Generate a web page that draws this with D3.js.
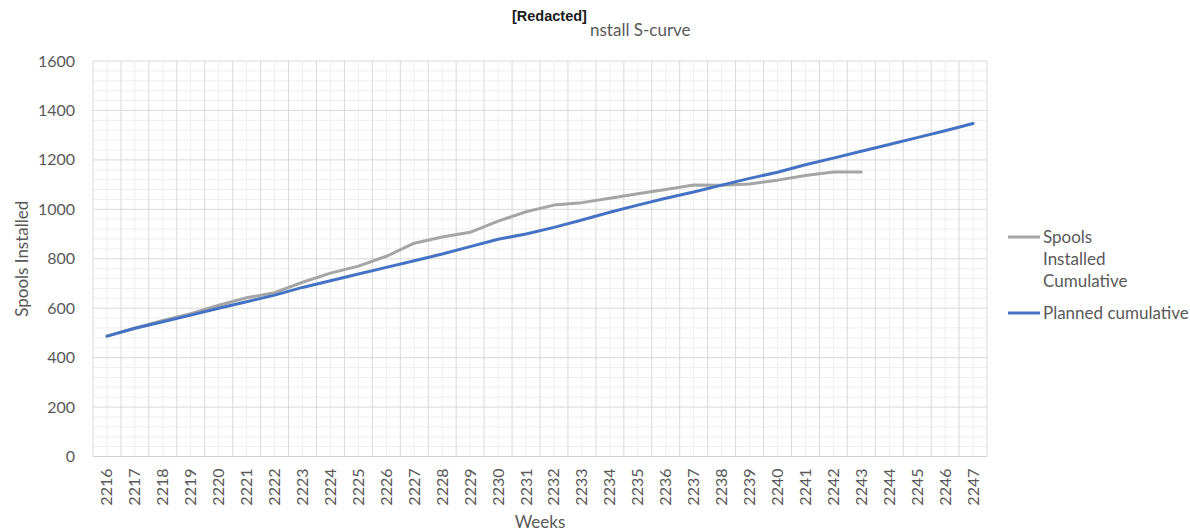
<!DOCTYPE html>
<html>
<head>
<meta charset="utf-8">
<script src="https://cdn.jsdelivr.net/npm/d3@7"></script>
<style>
  body { margin: 0; background: #fff; }
  svg text { font-family: Lato, "Open Sans", sans-serif; }
</style>
</head>
<body>
<div id="chart"></div>
<script>
// weeks on the category axis
const weeks = d3.range(2216, 2248).map(String);

// cumulative spools actually installed (stops at week 2243)
const installed = [487, 519, 550, 578, 612, 642, 663, 705, 742, 770, 810, 863, 888, 907,
  952, 990, 1017, 1027, 1045, 1063, 1080, 1098, 1097, 1102, 1118, 1137, 1151, 1151];

// planned cumulative
const planned = [487, 519, 545, 572, 600, 626, 653, 684, 711, 738, 765, 792, 819, 849,
  879, 900, 927, 957, 988, 1017, 1045, 1070, 1098, 1125, 1150, 1180, 1207, 1235, 1262,
  1290, 1318, 1347];

const yTicks = [0, 200, 400, 600, 800, 1000, 1200, 1400, 1600];

const width = 1190, height = 532;
const plotL = 93, plotR = 987, plotT = 61, plotB = 456.5;
const grey = "#595959";

const svg = d3.select("#chart").append("svg")
  .attr("width", width)
  .attr("height", height);

const x = d3.scaleBand().domain(weeks).range([plotL, plotR]).padding(0);
const y = d3.scaleLinear().domain([0, 1600]).range([plotB, plotT]);
const cx = w => x(w) + x.bandwidth() / 2;

// gridlines - minor first
const grid = svg.append("g").attr("class", "grid");
grid.selectAll("line.hminor")
  .data(d3.range(0, 1601, 40).filter(v => v % 200 !== 0))
  .enter().append("line")
  .attr("x1", plotL).attr("x2", plotR)
  .attr("y1", d => y(d)).attr("y2", d => y(d))
  .attr("stroke", "#efefef");
grid.selectAll("line.vminor")
  .data(weeks)
  .enter().append("line")
  .attr("x1", d => cx(d)).attr("x2", d => cx(d))
  .attr("y1", plotT).attr("y2", plotB)
  .attr("stroke", "#efefef");
grid.selectAll("line.hmajor")
  .data(yTicks.slice(1))
  .enter().append("line")
  .attr("x1", plotL).attr("x2", plotR)
  .attr("y1", d => y(d)).attr("y2", d => y(d))
  .attr("stroke", "#d9d9d9");
grid.selectAll("line.vmajor")
  .data(weeks.concat(["end"]))
  .enter().append("line")
  .attr("x1", d => d === "end" ? plotR : x(d))
  .attr("x2", d => d === "end" ? plotR : x(d))
  .attr("y1", plotT).attr("y2", plotB)
  .attr("stroke", "#d9d9d9");

// x axis line
svg.append("line")
  .attr("x1", plotL).attr("x2", plotR)
  .attr("y1", plotB).attr("y2", plotB)
  .attr("stroke", "#d0d0d0");

// y tick labels
svg.selectAll("text.ytick")
  .data(yTicks)
  .enter().append("text")
  .attr("x", 75)
  .attr("y", d => y(d) + 5.5)
  .attr("text-anchor", "end")
  .attr("fill", grey)
  .attr("font-size", 16)
  .text(d => d);

// x tick labels, rotated
svg.selectAll("text.xtick")
  .data(weeks)
  .enter().append("text")
  .attr("transform", d => "translate(" + (cx(d) + 5.5) + "," + (plotB + 12) + ") rotate(-90)")
  .attr("text-anchor", "end")
  .attr("fill", grey)
  .attr("font-size", 16)
  .text(d => d);

// series
const line = d3.line()
  .x((d, i) => cx(weeks[i]))
  .y(d => y(d));

svg.append("path")
  .datum(installed)
  .attr("d", line)
  .attr("fill", "none")
  .attr("stroke", "#a5a5a5")
  .attr("stroke-width", 3)
  .attr("stroke-linejoin", "round")
  .attr("stroke-linecap", "round");

svg.append("path")
  .datum(planned)
  .attr("d", line)
  .attr("fill", "none")
  .attr("stroke", "#4472c4")
  .attr("stroke-width", 3)
  .attr("stroke-linejoin", "round")
  .attr("stroke-linecap", "round");

// title
svg.append("text")
  .attr("x", 512).attr("y", 21)
  .attr("font-weight", "bold")
  .attr("font-size", 14.5)
  .attr("fill", "#1a1a1a")
  .attr("style", "font-family: 'Liberation Sans', Arial, sans-serif")
  .text("[Redacted]");
svg.append("text")
  .attr("x", 590).attr("y", 36)
  .attr("font-size", 17)
  .attr("fill", grey)
  .text("nstall S-curve");

// axis titles
svg.append("text")
  .attr("x", (plotL + plotR) / 2).attr("y", 528)
  .attr("text-anchor", "middle")
  .attr("font-size", 17)
  .attr("fill", grey)
  .text("Weeks");
svg.append("text")
  .attr("transform", "translate(28," + (plotT + plotB) / 2 + ") rotate(-90)")
  .attr("text-anchor", "middle")
  .attr("font-size", 17)
  .attr("fill", grey)
  .text("Spools Installed");

// legend
const legend = svg.append("g").attr("class", "legend");
legend.append("line")
  .attr("x1", 1008).attr("x2", 1040)
  .attr("y1", 237).attr("y2", 237)
  .attr("stroke", "#a5a5a5").attr("stroke-width", 3);
["Spools", "Installed", "Cumulative"].forEach((t, i) => {
  legend.append("text")
    .attr("x", 1043).attr("y", 243 + i * 22)
    .attr("font-size", 17)
    .attr("fill", grey)
    .text(t);
});
legend.append("line")
  .attr("x1", 1008).attr("x2", 1040)
  .attr("y1", 313).attr("y2", 313)
  .attr("stroke", "#4472c4").attr("stroke-width", 3);
legend.append("text")
  .attr("x", 1043).attr("y", 319)
  .attr("font-size", 17)
  .attr("fill", grey)
  .text("Planned cumulative");
</script>
</body>
</html>
